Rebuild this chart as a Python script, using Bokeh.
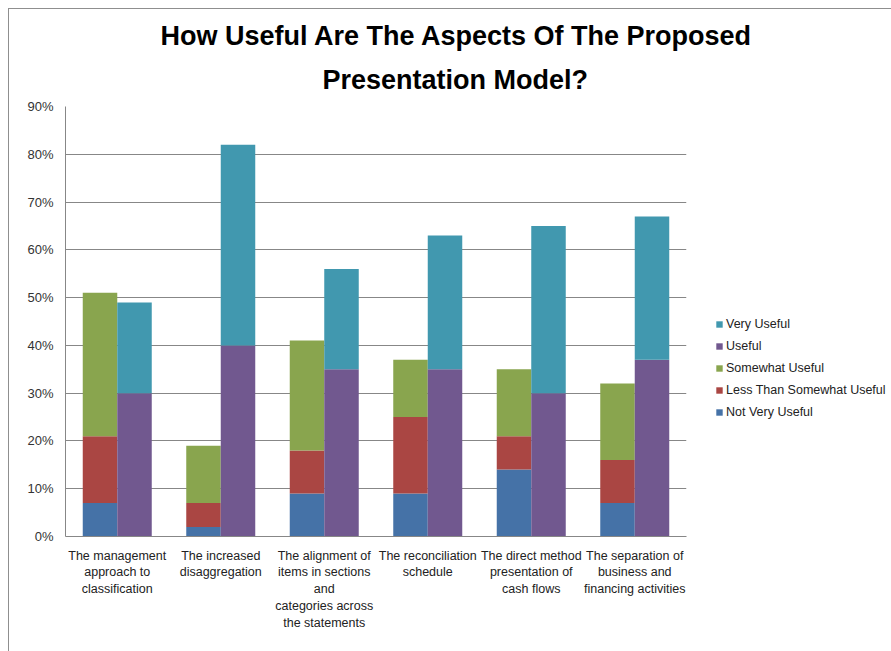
from bokeh.plotting import figure
from bokeh.models import (FactorRange, Range1d, Legend, LegendItem, Title,
                          NumeralTickFormatter, FixedTicker)
from bokeh.transform import dodge
from bokeh.embed import file_html
from bokeh.resources import INLINE

categories = [
    "The management\napproach to\nclassification",
    "The increased\ndisaggregation",
    "The alignment of\nitems in sections\nand\ncategories across\nthe statements",
    "The reconciliation\nschedule",
    "The direct method\npresentation of\ncash flows",
    "The separation of\nbusiness and\nfinancing activities",
]
not_very_useful = [0.07, 0.02, 0.09, 0.09, 0.14, 0.07]
less_than_somewhat_useful = [0.14, 0.05, 0.09, 0.16, 0.07, 0.09]
somewhat_useful = [0.30, 0.12, 0.23, 0.12, 0.14, 0.16]
useful = [0.30, 0.40, 0.35, 0.35, 0.30, 0.37]
very_useful = [0.19, 0.42, 0.21, 0.28, 0.35, 0.30]
y_ticks = [0.0, 0.1, 0.2, 0.3, 0.4, 0.5, 0.6, 0.7, 0.8, 0.9]
title_lines = ["How Useful Are The Aspects Of The Proposed", "Presentation Model?"]

colors = {
    "Not Very Useful": "#4572A7",
    "Less Than Somewhat Useful": "#AA4643",
    "Somewhat Useful": "#89A54E",
    "Useful": "#71588F",
    "Very Useful": "#4198AF",
}

FONT = "Liberation Sans"

p = figure(frame_width=621, frame_height=430,
           x_range=FactorRange(*categories, range_padding=0),
           y_range=Range1d(0, 0.9), output_backend="svg", toolbar_location=None,
           title=None, min_border_left=56, min_border_right=205,
           min_border_top=97, min_border_bottom=115)
p.styles = {"border-left": "1px solid #8f8f8f", "border-top": "1px solid #8f8f8f",
            "margin-left": "8px", "margin-top": "8px"}
p.outline_line_color = None
p.background_fill_color = "white"
p.border_fill_color = "white"

data = dict(cat=categories,
            nvu=not_very_useful, ltsu=less_than_somewhat_useful, su=somewhat_useful,
            u=useful, vu=very_useful)

left = p.vbar_stack(["nvu", "ltsu", "su"], x=dodge("cat", -1/6, range=p.x_range),
                    width=1/3, source=data,
                    color=[colors["Not Very Useful"], colors["Less Than Somewhat Useful"],
                           colors["Somewhat Useful"]], line_width=0)
right = p.vbar_stack(["u", "vu"], x=dodge("cat", 1/6, range=p.x_range),
                     width=1/3, source=data,
                     color=[colors["Useful"], colors["Very Useful"]], line_width=0)

legend = Legend(items=[
    LegendItem(label="Very Useful", renderers=[right[1]]),
    LegendItem(label="Useful", renderers=[right[0]]),
    LegendItem(label="Somewhat Useful", renderers=[left[2]]),
    LegendItem(label="Less Than Somewhat Useful", renderers=[left[1]]),
    LegendItem(label="Not Very Useful", renderers=[left[0]]),
], location=(29, 117))
legend.padding = 0
legend.margin = 0
legend.border_line_color = None
legend.background_fill_alpha = 0
legend.glyph_width = 8
legend.glyph_height = 8
legend.label_height = 14
legend.spacing = 8
legend.label_standoff = 3
legend.label_text_font = FONT
legend.label_text_font_size = "12.5px"
legend.label_text_color = "#222222"
p.add_layout(legend, "right")

# axes
p.yaxis.ticker = FixedTicker(ticks=y_ticks)
p.yaxis.formatter = NumeralTickFormatter(format="0%")
p.yaxis.major_tick_out = 0
p.yaxis.major_tick_in = 0
p.yaxis.minor_tick_out = 0
p.yaxis.minor_tick_in = 0
p.yaxis.major_label_standoff = 12
p.yaxis.axis_line_color = "#878787"
p.yaxis.major_label_text_font = FONT
p.yaxis.major_label_text_font_size = "13px"
p.yaxis.major_label_text_color = "#333333"

p.xaxis.major_tick_out = 0
p.xaxis.major_tick_in = 0
p.xaxis.major_label_standoff = 12
p.xaxis.axis_line_color = "#878787"
p.xaxis.major_label_text_font = FONT
p.xaxis.major_label_text_font_size = "12.5px"
p.xaxis.major_label_text_color = "#222222"
p.xaxis.major_label_text_line_height = 1.2

p.xgrid.grid_line_color = None
p.ygrid.grid_line_color = "#878787"
p.ygrid.grid_line_width = 1

# title: second line closest to the frame, first line above it
p.add_layout(Title(text=title_lines[1], align="left", offset=257, standoff=24,
                   text_font=FONT, text_font_size="27px", text_font_style="bold",
                   text_color="#000000"), "above")
p.add_layout(Title(text=title_lines[0], align="left", offset=95, standoff=0,
                   text_font=FONT, text_font_size="27px", text_font_style="bold",
                   text_color="#000000"), "above")

open("out.html", "w").write(file_html(p, INLINE))
